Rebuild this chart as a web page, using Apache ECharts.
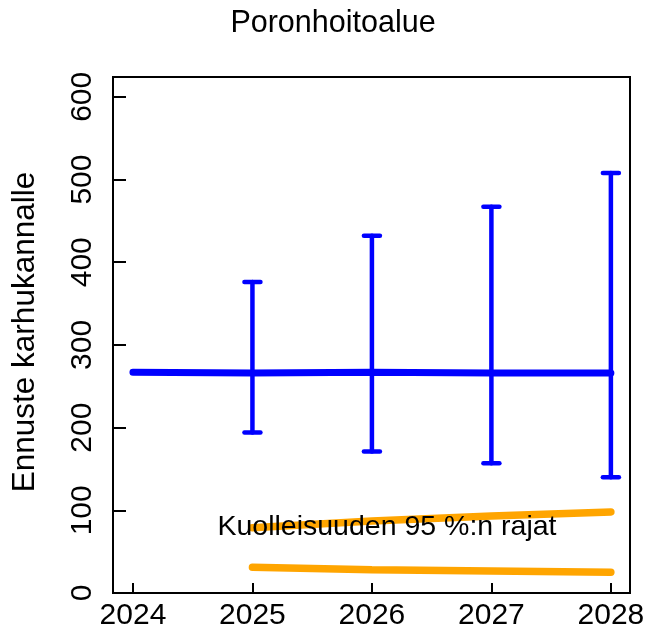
<!DOCTYPE html>
<html><head><meta charset="utf-8">
<script src="https://cdn.jsdelivr.net/npm/echarts@6/dist/echarts.min.js"></script>
<style>html,body{margin:0;padding:0;background:#fff}#c{width:648px;height:635px}</style>
</head><body><div id="c"></div>
<script>
const titleText = 'Poronhoitoalue';
const yAxisTitle = 'Ennuste karhukannalle';
const mortLabel = 'Kuolleisuuden 95 %:n rajat';
const years = [2024, 2025, 2026, 2027, 2028];
const meanValues = [267, 266, 267, 266, 266];
const ciYears = [2025, 2026, 2027, 2028];
const ciLower = [194, 171, 157, 140];
const ciUpper = [376, 432, 467, 508];
const mortYears = [2025, 2026, 2027, 2028];
const mortUpper = [79, 87, 93, 98];
const mortLower = [31, 28, 26.5, 25];
const xTicks = [2024, 2025, 2026, 2027, 2028];
const yTicks = [0, 100, 200, 300, 400, 500, 600];

const FONT = '"Liberation Sans", Arial, sans-serif';
const chart = echarts.init(document.getElementById('c'), null, {renderer: 'canvas'});

const option = {
  animation: false,
  backgroundColor: '#fff',
  grid: {left: 113, right: 18, top: 77, bottom: 42, show: true, borderColor: '#000', borderWidth: 2, backgroundColor: 'transparent'},
  xAxis: {
    type: 'value', min: 2023.833, max: 2028.16,
    axisLine: {show: false},
    splitLine: {show: false},
    axisTick: {show: true, inside: true, length: 10, lineStyle: {color: '#000', width: 2}, customValues: xTicks},
    axisLabel: {customValues: xTicks, color: '#000', fontFamily: FONT, fontSize: 30, margin: 8, formatter: v => String(v)}
  },
  yAxis: {
    type: 'value', min: 0, max: 624,
    axisLine: {show: false},
    splitLine: {show: false},
    axisTick: {show: true, inside: true, length: 13, lineStyle: {color: '#000', width: 2}, customValues: yTicks},
    axisLabel: {customValues: yTicks, rotate: 90, color: '#000', fontFamily: FONT, fontSize: 30, margin: 15}
  },
  graphic: [
    {type: 'text', x: 333, y: 24, style: {text: titleText, fill: '#000', fontFamily: FONT, fontSize: 30.5, align: 'center', verticalAlign: 'middle'}},
    {type: 'text', x: 25, y: 332, rotation: Math.PI / 2, style: {text: yAxisTitle, fill: '#000', fontFamily: FONT, fontSize: 31.5, align: 'center', verticalAlign: 'middle'}},
    {type: 'text', x: 387, y: 527, z: 100, style: {text: mortLabel, fill: '#000', fontFamily: FONT, fontSize: 28.5, align: 'center', verticalAlign: 'middle'}}
  ],
  series: [
    {
      type: 'line', showSymbol: false, silent: true, z: 3,
      data: years.map((y, i) => [y, meanValues[i]]),
      lineStyle: {color: '#0000ff', width: 7, cap: 'round'}
    },
    {
      type: 'custom', z: 4,
      data: ciYears.map((y, i) => [y, ciLower[i], ciUpper[i]]),
      encode: {x: 0, y: [1, 2]},
      renderItem: function (params, api) {
        const x = api.value(0), lo = api.value(1), hi = api.value(2);
        const pHi = api.coord([x, hi]), pLo = api.coord([x, lo]);
        const w = 8;
        const style = {stroke: '#0000ff', lineWidth: 4.5, lineCap: 'round', fill: null};
        return {type: 'group', children: [
          {type: 'line', shape: {x1: pHi[0], y1: pHi[1], x2: pLo[0], y2: pLo[1]}, style: style},
          {type: 'line', shape: {x1: pHi[0] - w, y1: pHi[1], x2: pHi[0] + w, y2: pHi[1]}, style: style},
          {type: 'line', shape: {x1: pLo[0] - w, y1: pLo[1], x2: pLo[0] + w, y2: pLo[1]}, style: style}
        ]};
      }
    },
    {
      type: 'line', showSymbol: false, silent: true, z: 2,
      data: mortYears.map((y, i) => [y, mortUpper[i]]),
      lineStyle: {color: '#FFA500', width: 7.5, cap: 'round'}
    },
    {
      type: 'line', showSymbol: false, silent: true, z: 2,
      data: mortYears.map((y, i) => [y, mortLower[i]]),
      lineStyle: {color: '#FFA500', width: 7.5, cap: 'round'}
    }
  ]
};
chart.setOption(option);
</script>
</body></html>
